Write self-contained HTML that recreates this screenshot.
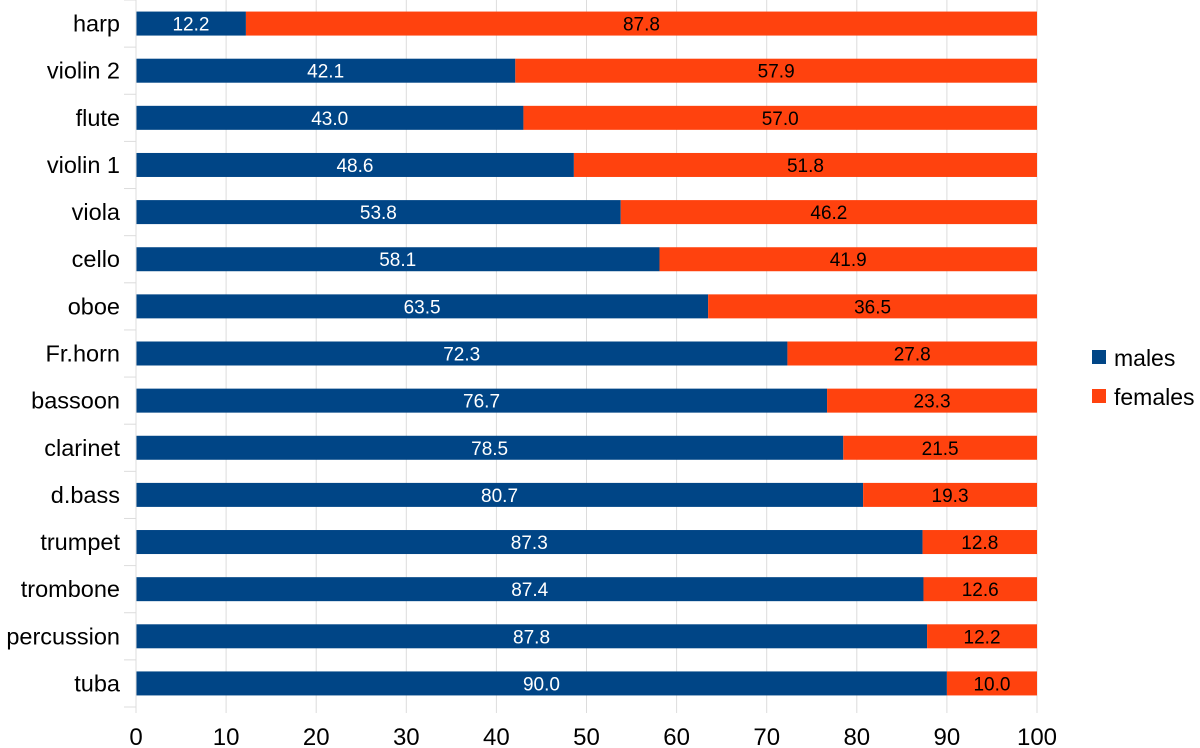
<!DOCTYPE html>
<html><head><meta charset="utf-8"><style>
body{margin:0;background:#fff;}
svg{display:block;font-family:"Liberation Sans",sans-serif;}
</style></head><body>
<svg id="chart" width="1200" height="748" viewBox="0 0 1200 748">
<g id="grid"></g>
<g id="bars"></g>
<g id="axes"></g>
<g>
<rect x="1092" y="350" width="14" height="14" fill="#004586"/>
<text x="1114" y="366" font-size="23" fill="#000">males</text>
<rect x="1092" y="389" width="14" height="14" fill="#ff420e"/>
<text x="1114" y="405" font-size="23" fill="#000">females</text>
</g>
</svg>
<script>
const categories=["harp","violin 2","flute","violin 1","viola ","cello","oboe","Fr.horn","bassoon","clarinet","d.bass","trumpet","trombone","percussion","tuba"];
const males=[12.2,42.1,43.0,48.6,53.8,58.1,63.5,72.3,76.7,78.5,80.7,87.3,87.4,87.8,90.0];
const females=[87.8,57.9,57.0,51.8,46.2,41.9,36.5,27.8,23.3,21.5,19.3,12.8,12.6,12.2,10.0];
const xTicks=[0,10,20,30,40,50,60,70,80,90,100];
const NS="http://www.w3.org/2000/svg";
const X0=136,X1=1037,Y0=0,Y1=707;
const x=v=>X0+(X1-X0)*v/100;
const band=(Y1-Y0)/categories.length;
const yc=i=>Y0+band*(i+0.5);
const BH=24;
function mk(tag,attrs,parent){const e=document.createElementNS(NS,tag);for(const k in attrs)e.setAttribute(k,attrs[k]);parent.appendChild(e);return e;}
const grid=document.getElementById('grid'),bars=document.getElementById('bars'),axes=document.getElementById('axes');
xTicks.forEach(t=>{
  const l=mk('line',{x1:x(t),x2:x(t),y1:Y0,y2:Y1+6,stroke:'#dcdcdc','stroke-width':1},grid);
  
  
  const tx=mk('text',{x:x(t),y:745,'text-anchor':'middle','font-size':24,fill:'#000'},axes);
  tx.textContent=t;
  
  
});
for(let i=0;i<=categories.length;i++){
  const l=mk('line',{x1:124,x2:X0,y1:Y0+band*i,y2:Y0+band*i,stroke:'#dcdcdc','stroke-width':1},grid);
  
  
}
const ax=mk('line',{x1:X0,x2:X0,y1:Y0,y2:Y1,stroke:'#dcdcdc','stroke-width':1},axes);


categories.forEach((c,i)=>{
  const y=yc(i);
  const lab=mk('text',{x:120,y:y+8,'text-anchor':'end','font-size':23.5,fill:'#000','xml:space':'preserve'},axes);
  lab.textContent=c;
  
  
  const m=mk('rect',{x:x(0),y:y-BH/2,width:x(males[i])-x(0),height:BH,fill:'#004586'},bars);
  
  
  const fEnd=Math.min(100,males[i]+females[i]);
  const f=mk('rect',{x:x(males[i]),y:y-BH/2,width:x(fEnd)-x(males[i]),height:BH,fill:'#ff420e'},bars);
  
  
  const mt=mk('text',{x:(x(0)+x(males[i]))/2,y:y+7,'text-anchor':'middle','font-size':19,fill:'#fff'},bars);
  mt.textContent=males[i].toFixed(1);
  
  
  const ft=mk('text',{x:(x(males[i])+x(fEnd))/2,y:y+7,'text-anchor':'middle','font-size':19,fill:'#000'},bars);
  ft.textContent=females[i].toFixed(1);
  
  
});
</script>
</body></html>
